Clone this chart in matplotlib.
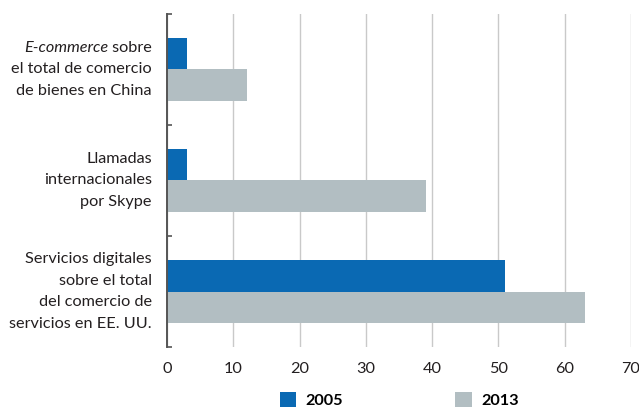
import matplotlib.pyplot as plt
import numpy as np
from matplotlib import transforms

# Data
categories = [
    ['sobre', 'el total de comercio', 'de bienes en China'],
    ['Llamadas', 'internacionales', 'por Skype'],
    ['Servicios digitales', 'sobre el total', 'del comercio de', 'servicios en EE. UU.'],
]
values_2005 = [3, 3, 51]
values_2013 = [12, 39, 63]
years = ['2005', '2013']

color_2005 = '#0a69b3'
color_2013 = '#b2bec2'
font_size = 11.7
plt.rcParams['font.family'] = ['Lato', 'DejaVu Sans']

fig = plt.figure(figsize = (6.39, 4.08), dpi = 100)
ax = fig.add_axes([0.2613, 0.1495, 0.7262, 0.8162])

y = np.arange(len(categories)) + 0.5
bar_h = 0.286
b1 = ax.barh(y - bar_h / 2, values_2005, height = bar_h, color = color_2005, label = years[0], zorder = 2)
b2 = ax.barh(y + bar_h / 2, values_2013, height = bar_h, color = color_2013, label = years[1], zorder = 2)

ax.set_xlim(0, 70)
ax.set_ylim(len(categories), 0)
ax.set_xticks(np.arange(0, 71, 10))
ax.tick_params(axis = 'x', length = 0, pad = 11, labelsize = font_size, colors = '#231f20')
ax.set_yticks(np.arange(len(categories) + 1))
ax.set_yticklabels([])
ax.tick_params(axis = 'y', direction = 'in', length = 3.5, width = 1.2, color = '#555555')
for s in ['top', 'right', 'bottom']:
    ax.spines[s].set_visible(False)
ax.spines['left'].set_color('#555555')
ax.spines['left'].set_linewidth(1.4)
ax.grid(True, axis = 'x', color = '#c9c9c9', linewidth = 1, zorder = 0)
ax.set_axisbelow(True)

# Category labels, one line at a time, right aligned left of the axis
line_step = 15.5  # points
trans = transforms.blended_transform_factory(fig.transFigure, ax.transData)
x_lab = 152 / 639
for i, lines in enumerate(categories):
    n = len(lines)
    for j, line in enumerate(lines):
        off = (j - (n - 1) / 2) * -line_step
        t = transforms.offset_copy(trans, fig = fig, x = 0, y = off, units = 'points')
        ax.text(x_lab, y[i], line, transform = t, ha = 'right', va = 'center',
                fontsize = font_size, color = '#231f20')

# First label line with italic part
fig.canvas.draw()
off0 = line_step
rend = fig.canvas.get_renderer()
sobre_txt = ax.texts[0]
sobre_txt.set_text(' sobre')
w = sobre_txt.get_window_extent(rend).width
t2 = transforms.offset_copy(trans, fig = fig, x = -w * 72 / fig.dpi, y = off0, units = 'points')
ax.text(x_lab, y[0], 'E-commerce', transform = t2, ha = 'right', va = 'center',
        fontsize = font_size, style = 'italic', color = '#231f20')

fig.legend([b1, b2], years, loc = 'center', bbox_to_anchor = (0.625, 1 - 400 / 408),
           ncol = 2, frameon = False, handlelength = 1.0, handleheight = 1.0,
           columnspacing = 6.9, handletextpad = 0.6,
           prop = {'size': font_size, 'weight': 'bold'})

fig.savefig('out.png', dpi = 100)
